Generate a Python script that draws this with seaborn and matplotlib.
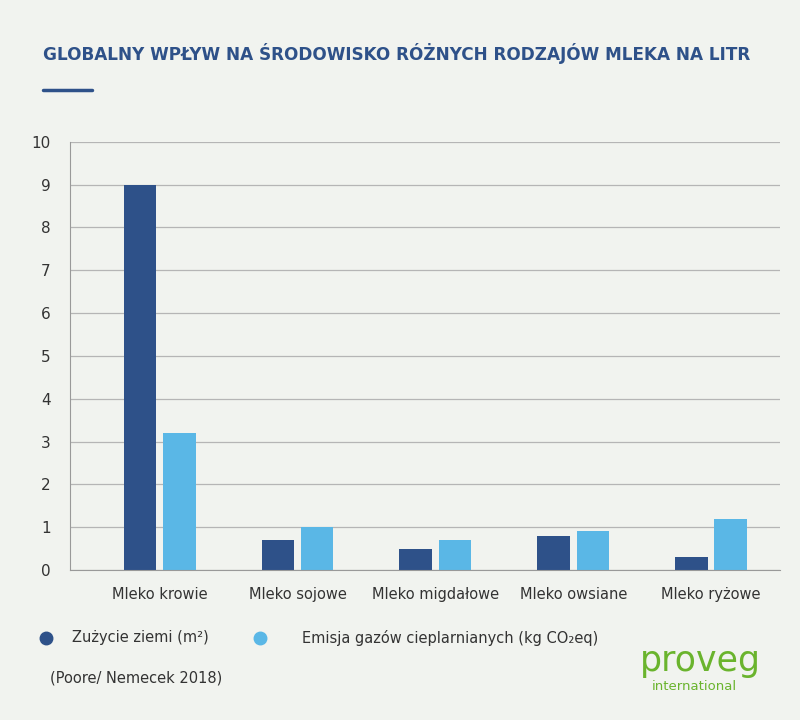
import matplotlib
matplotlib.use("Agg")
import matplotlib.pyplot as plt
import seaborn as sns
import pandas as pd

categories = ["Mleko krowie", "Mleko sojowe", "Mleko migdałowe", "Mleko owsiane", "Mleko ryżowe"]
series = ["Zużycie ziemi (m²)", "Emisja gazów cieplarnianych (kg CO₂eq)"]
land = [9.0, 0.7, 0.5, 0.8, 0.3]
ghg = [3.2, 1.0, 0.7, 0.9, 1.2]
yticks = list(range(0, 11))

df = pd.DataFrame({
    "cat": categories * 2,
    "series": [series[0]] * 5 + [series[1]] * 5,
    "val": land + ghg,
})

bg = "#f1f3ef"
dark = "#2e5189"
light = "#5ab7e6"
sns.set_style("white")
plt.rcParams["font.family"] = ["DejaVu Sans"]

fig = plt.figure(figsize=(8, 7.2), dpi=100, facecolor=bg)
ax = fig.add_axes([0.0875, 0.2083, 0.8875, 0.5947])
ax.set_facecolor(bg)
sns.barplot(data=df, x="cat", y="val", hue="series", palette=[dark, light],
            width=0.57, gap=0.17, ax=ax, legend=False, saturation=1, linewidth=0)
ax.set_ylim(0, 10)
ax.set_xlim(-0.65, 4.5)
ax.set_yticks(yticks)
ax.set_yticklabels([str(t) for t in yticks], fontsize=11, color="#333333")
ax.tick_params(axis="x", labelsize=10.5, colors="#333333", length=0, pad=12)
ax.tick_params(axis="y", length=0, pad=14)
ax.set_xlabel(""); ax.set_ylabel("")
ax.yaxis.grid(True, color="#b5b5b5", linewidth=0.9)
ax.set_axisbelow(True)
for s in ["top", "right"]:
    ax.spines[s].set_visible(False)
ax.spines["left"].set_color("#999999")
ax.spines["bottom"].set_color("#999999")

fig.text(0.054, 0.925, "GLOBALNY WPŁYW NA ŚRODOWISKO RÓŻNYCH RODZAJÓW MLEKA NA LITR",
         fontsize=12.2, fontweight="bold", color=dark, va="center")
fig.add_artist(plt.Line2D([0.054, 0.115], [0.875, 0.875], color=dark, lw=2.5))

fig.add_artist(plt.Line2D([0.057], [0.114], marker="o", markersize=9, color=dark))
fig.text(0.09, 0.114, series[0], fontsize=10.5, color="#333333", va="center")
fig.add_artist(plt.Line2D([0.325], [0.114], marker="o", markersize=9, color=light))
fig.text(0.378, 0.114, series[1], fontsize=10.5, color="#333333", va="center")
fig.text(0.062, 0.058, "(Poore/ Nemecek 2018)", fontsize=10.5, color="#333333", va="center")

green = "#6ab42d"
fig.text(0.80, 0.082, "proveg", fontsize=25, color=green, va="center")
fig.text(0.815, 0.047, "international", fontsize=9.5, color=green, va="center")

fig.savefig("out.png", dpi=100, facecolor=bg)
